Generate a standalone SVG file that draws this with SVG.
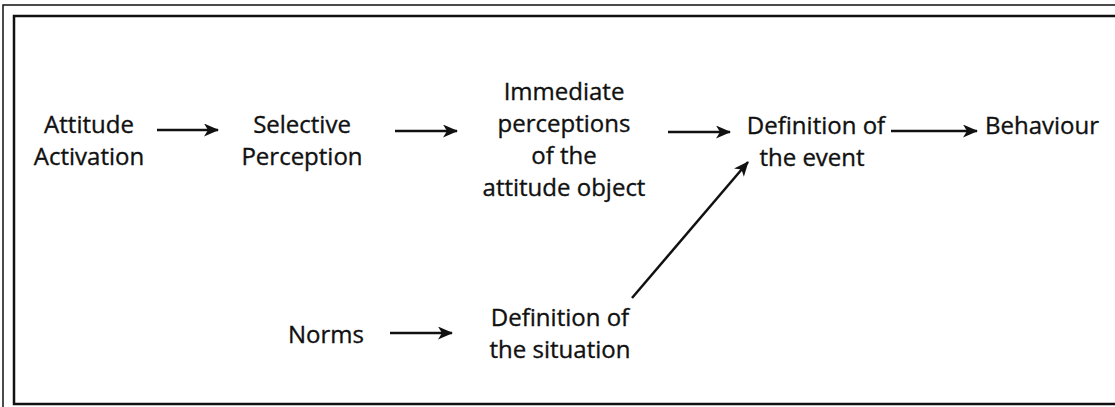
<svg xmlns="http://www.w3.org/2000/svg" width="1115" height="407" viewBox="0 0 1115 407">
<style>
  text { font-family: "Open Sans", "Noto Sans", "Liberation Sans", sans-serif; font-size: 24px; fill: #111; stroke: #111; stroke-width: 0.35; text-anchor: middle; }
  .frame { stroke: #111; fill: none; }
  .conn { stroke: #111; stroke-width: 2.5; fill: none; marker-end: url(#ah); }
</style>
<defs>
  <marker id="ah" viewBox="0 0 15 13" refX="14" refY="6.5" markerWidth="15" markerHeight="13" markerUnits="userSpaceOnUse" orient="auto">
    <path d="M0,0 L15,6.5 L0,13 L4,6.5 z" fill="#111"/>
  </marker>
</defs>
<rect width="1115" height="407" fill="#fff"/>
<g id="frame">
  <path class="frame" stroke-width="1.5" d="M1115,5 H3 V407"/>
  <path class="frame" stroke-width="2.5" d="M1115,16 H14 V404 H1115"/>
</g>
<g id="connectors">
  <line class="conn" x1="157" y1="130" x2="218" y2="130"/>
  <line class="conn" x1="395" y1="131" x2="457" y2="131"/>
  <line class="conn" x1="668" y1="132" x2="730" y2="132"/>
  <line class="conn" x1="891" y1="131" x2="977" y2="131"/>
  <line class="conn" x1="632" y1="298" x2="748" y2="162"/>
  <line class="conn" x1="390" y1="333" x2="452" y2="333"/>
</g>
<g id="n-attitude"><text x="89" y="133">Attitude</text><text x="89" y="165">Activation</text></g>
<g id="n-selective"><text x="302" y="133">Selective</text><text x="302" y="165">Perception</text></g>
<g id="n-immediate"><text x="564" y="100">Immediate</text><text x="564" y="132">perceptions</text><text x="564" y="164">of the</text><text x="564" y="196">attitude object</text></g>
<g id="n-event"><text x="816" y="134">Definition of</text><text x="812" y="166">the event</text></g>
<g id="n-behaviour"><text x="1099" y="134" style="text-anchor:end">Behaviour</text></g>
<g id="n-norms"><text x="326" y="343">Norms</text></g>
<g id="n-situation"><text x="560" y="326">Definition of</text><text x="560" y="358">the situation</text></g>
</svg>
